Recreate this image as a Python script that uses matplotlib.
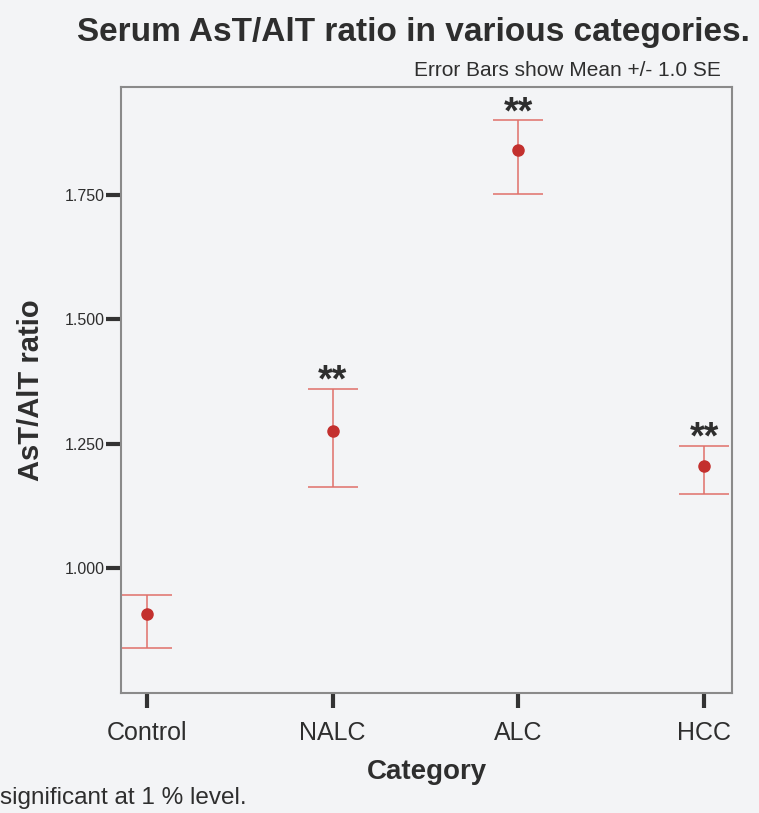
import matplotlib
matplotlib.use("Agg")
import matplotlib.pyplot as plt
import numpy as np

categories = ["Control", "NALC", "ALC", "HCC"]
means = [0.907, 1.276, 1.842, 1.206]
upper = [0.946, 1.360, 1.901, 1.246]
lower = [0.839, 1.162, 1.752, 1.148]
significant = [False, True, True, True]
yticks = [1.000, 1.250, 1.500, 1.750]
ytick_labels = ["1.000", "1.250", "1.500", "1.750"]

plt.rcParams['font.family'] = ['Liberation Sans', 'DejaVu Sans']
bg = '#f3f4f6'
txt = '#2e2e2e'

fig = plt.figure(figsize=(7.59, 8.13), dpi=100, facecolor=bg)
ax = fig.add_axes([121/759, 1 - 693/813, (732-121)/759, (693-87)/813])
ax.set_facecolor(bg)

x = np.arange(len(categories))
m = np.array(means)
yerr = np.vstack([m - np.array(lower), np.array(upper) - m])
ax.errorbar(x, m, yerr=yerr, fmt='none', ecolor='#e0706a', elinewidth=1.1,
            capsize=18, capthick=1.1, zorder=2)
ax.plot(x, m, 'o', color='#c3302e', markersize=8, zorder=3)

for xi, up, s in zip(x, upper, significant):
    if s:
        ax.annotate("**", (xi, up), xytext=(0, -2), textcoords='offset points',
                    ha='center', va='baseline', fontsize=27, fontweight='bold', color=txt)

ax.set_xlim(-0.14, 3.15)
ax.set_ylim(0.748, 1.968)
ax.set_xticks(x)
ax.set_xticklabels(categories, fontsize=18, color=txt)
ax.set_yticks(yticks)
ax.set_yticklabels(ytick_labels, fontsize=11.5, color=txt)
ax.tick_params(axis='both', direction='out', length=11, width=3, color='#333333')
ax.tick_params(axis='x', pad=9)
ax.tick_params(axis='y', pad=1)
for sp in ax.spines.values():
    sp.set_color('#8a8a8a')
    sp.set_linewidth(1.5)

ax.set_ylabel("AsT/AlT ratio", fontsize=21, fontweight='bold', color=txt, labelpad=14)
ax.set_xlabel("Category", fontsize=20, fontweight='bold', color=txt, labelpad=10)

fig.text(413/759, 1 - 33/813, "Serum AsT/AlT ratio in various categories.", ha='center', va='center',
         fontsize=24, fontweight='bold', color=txt)
fig.text(721/759, 1 - 71/813, "Error Bars show Mean +/- 1.0 SE", ha='right', va='center',
         fontsize=15, color=txt)
fig.text(0/759, 1 - 798/813, "significant at 1 % level.", ha='left', va='center',
         fontsize=17.5, color=txt)

fig.savefig("out.png", dpi=100, facecolor=bg)
